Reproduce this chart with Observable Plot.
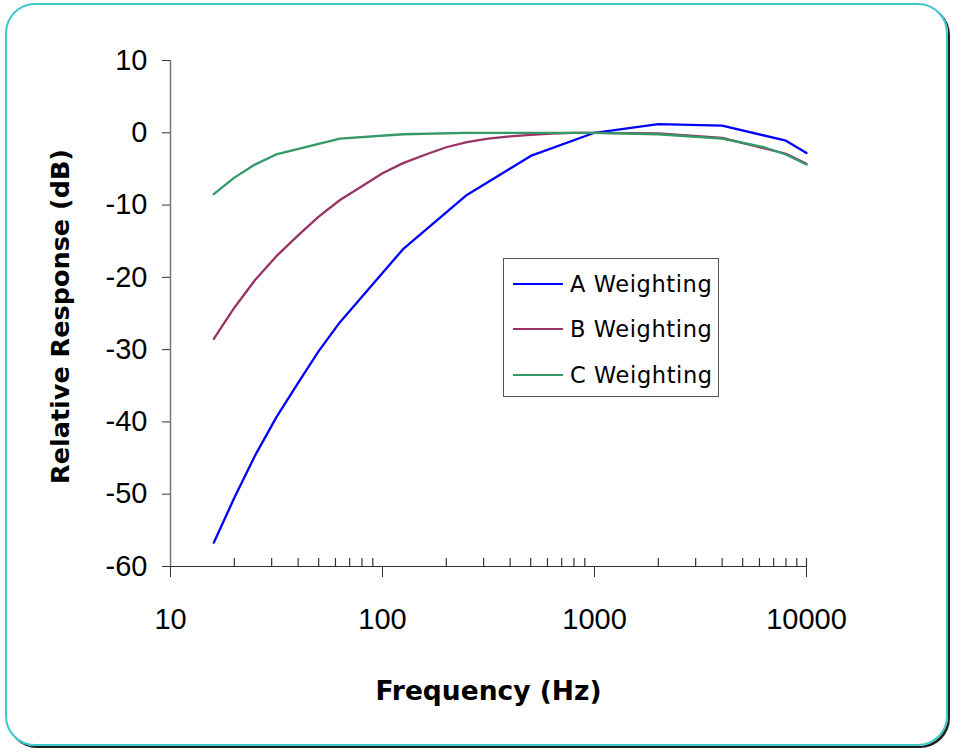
<!DOCTYPE html>
<html>
<head>
<meta charset="utf-8">
<script src="https://cdn.jsdelivr.net/npm/d3@7"></script>
<script src="https://cdn.jsdelivr.net/npm/@observablehq/plot@0.6"></script>
<style>
  html, body { margin: 0; padding: 0; background: #fff; }
  #wrap { position: relative; width: 954px; height: 753px; overflow: hidden; background: #fff; }
  #border { position: absolute; left: 5px; top: 3px; width: 943px; height: 743px;
    border: 2.5px solid #3cc8cc; border-radius: 30px; box-shadow: 2px 2px 0 #222; box-sizing: border-box; pointer-events: none; }
  #chart { position: absolute; left: 0; top: 0; }
  #legend { position: absolute; left: 503px; top: 258px; width: 216px; height: 139px; box-sizing: border-box;
    border: 1.5px solid #555; background: #fff; font-family: "DejaVu Sans", sans-serif; font-size: 22.5px;
    letter-spacing: 0.6px; color: #000; }
  .row { position: absolute; left: 0; height: 30px; display: flex; align-items: center; }
  .swatch { width: 50px; height: 2px; margin-left: 9px; margin-right: 7px; }
</style>
</head>
<body>
<div id="wrap">
  <div id="chart"></div>
  <div id="legend"></div>
  <div id="border"></div>
</div>
<script>
// ---- data ----
const seriesNames = ["A Weighting", "B Weighting", "C Weighting"];
const seriesColors = ["#0000ff", "#993366", "#339966"];

const freqA = [16, 20, 25, 31.5, 40, 50, 63, 125, 250, 500, 1000, 2000, 4000, 8000, 10000];
const valA  = [-56.7, -50.5, -44.7, -39.4, -34.6, -30.2, -26.2, -16.1, -8.6, -3.2, 0, 1.2, 1.0, -1.1, -2.8];

const freqB = [16, 20, 25, 31.5, 40, 50, 63, 80, 100, 125, 160, 200, 250, 315, 400, 500, 630, 800, 1000, 2000, 4000, 8000, 10000];
const valB  = [-28.5, -24.2, -20.4, -17.1, -14.2, -11.6, -9.3, -7.4, -5.6, -4.2, -3.0, -2.0, -1.3, -0.8, -0.5, -0.3, -0.1, 0, 0, -0.1, -0.7, -2.9, -4.3];

const freqC = [16, 20, 25, 31.5, 63, 125, 250, 500, 1000, 2000, 4000, 6300, 8000, 10000];
const valC  = [-8.5, -6.2, -4.4, -3.0, -0.8, -0.2, 0, 0, 0, -0.2, -0.8, -2.0, -3.0, -4.4];

const xTicks = [10, 100, 1000, 10000];
const xMinorTicks = [20, 30, 40, 50, 60, 70, 80, 90, 200, 300, 400, 500, 600, 700, 800, 900,
                     2000, 3000, 4000, 5000, 6000, 7000, 8000, 9000, 10000];
const yTicks = [-60, -50, -40, -30, -20, -10, 0, 10];

const xLabel = "Frequency (Hz)";
const yLabel = "Relative Response (dB)";

// ---- build table ----
const rows = [];
[[freqA, valA], [freqB, valB], [freqC, valC]].forEach(([f, v], s) => {
  f.forEach((fr, i) => rows.push({series: seriesNames[s], freq: fr, db: v[i]}));
});

const numFont = "'Liberation Sans Narrow', 'Arial Narrow', 'Liberation Sans', sans-serif";
const labelFont = "'DejaVu Sans', sans-serif";

const plot = Plot.plot({
  width: 954,
  height: 753,
  marginLeft: 170,
  marginRight: 148,
  marginTop: 60,
  marginBottom: 187,
  style: {background: "transparent", overflow: "visible"},
  x: {type: "log", domain: [10, 10000]},
  y: {domain: [-60, 10]},
  color: {domain: seriesNames, range: seriesColors},
  marks: [
    Plot.ruleX([10], {stroke: "#777", strokeWidth: 1.5}),
    Plot.ruleY([-60], {stroke: "#333", strokeWidth: 1.2}),
    Plot.ruleX(xMinorTicks, {x: d => d, y1: -60, y2: -58.9, stroke: "#333", strokeWidth: 1.2}),
    Plot.axisX({ticks: xTicks, tickFormat: d => String(d), tickSize: 11, tickPadding: 31,
      fontSize: 29, fontFamily: numFont, stroke: "#333", color: "#000", label: null}),
    Plot.axisY({ticks: yTicks, tickFormat: d => String(d), tickSize: 8, tickPadding: 15,
      fontSize: 29, fontFamily: numFont, stroke: "#333", color: "#000", label: null}),
    Plot.line(rows, {x: "freq", y: "db", z: "series", stroke: "series", strokeWidth: 2.3, curve: "linear"}),
    Plot.text([yLabel], {frameAnchor: "left", dx: -110, dy: 3, rotate: -90, textAnchor: "middle", fontSize: 25.5,
      fontWeight: "bold", fontFamily: labelFont, fill: "#000"}),
    Plot.text([xLabel], {frameAnchor: "bottom", dy: 133, textAnchor: "middle", fontSize: 26.5,
      fontWeight: "bold", fontFamily: labelFont, fill: "#000"})
  ]
});
document.getElementById("chart").appendChild(plot);

// ---- legend ----
const legend = document.getElementById("legend");
const rowTops = [10, 55, 101];
seriesNames.forEach((name, i) => {
  const r = document.createElement("div");
  r.className = "row";
  r.style.top = rowTops[i] + "px";
  const sw = document.createElement("div");
  sw.className = "swatch";
  sw.style.background = seriesColors[i];
  const t = document.createElement("span");
  t.textContent = name;
  r.appendChild(sw); r.appendChild(t);
  legend.appendChild(r);
});
</script>
</body>
</html>
